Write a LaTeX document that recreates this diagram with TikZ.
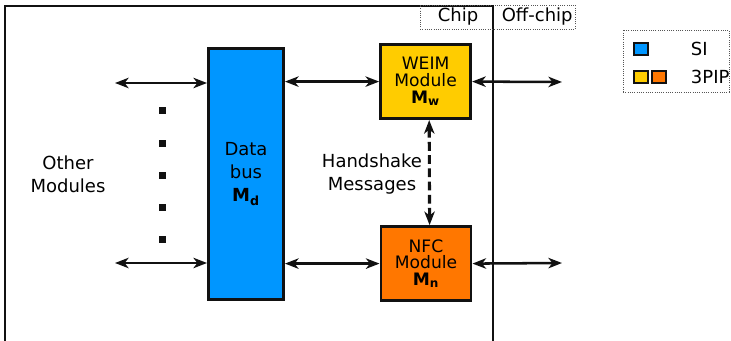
\documentclass[tikz,border=0pt]{standalone}
\usepackage{fontspec}
\setmainfont{DejaVu Sans}
\usetikzlibrary{arrows.meta,positioning,calc}
\definecolor{busBlue}{HTML}{0096FF}
\definecolor{weimYellow}{HTML}{FFCC00}
\definecolor{nfcOrange}{HTML}{FF7700}
\definecolor{lineDark}{HTML}{111111}
\definecolor{dotGray}{HTML}{555555}

\begin{document}
\begin{tikzpicture}[
        font=\fontsize{12.8}{16.5}\selectfont,
        block/.style={
            draw=lineDark,
            line width=2.1pt,
            align=center,
            inner sep=0pt
        },
        module/.style={
            block,
            minimum width=2.25cm,
            minimum height=1.85cm,
            font=\fontsize{12.2}{11.8}\selectfont
        },
        link/.style={
            {Stealth[length=3.4mm,width=2.6mm,inset=1mm]}-{Stealth[length=3.4mm,width=2.6mm,inset=1mm]},
            line width=1.8pt,
            draw=lineDark
        },
        dot/.style={
            fill=lineDark,
            minimum size=0.175cm,
            inner sep=0pt
        },
        swatch/.style={
            draw=lineDark,
            line width=1.4pt,
            minimum width=0.35cm,
            minimum height=0.3cm,
            inner sep=0pt
        },
        dotbox/.style={
            draw=dotGray,
            densely dotted,
            line width=0.6pt,
            inner sep=0pt
        }
    ]

    \useasboundingbox (0,0) rectangle (18.275,-8.525);

    % chip border (bottom side runs off the page)
    \draw[line width=1.4pt, draw=lineDark]
        (0.125,-8.7) -- (0.125,-0.15) -- (12.325,-0.15) -- (12.325,-8.7);

    \node[dotbox, minimum width=3.875cm, minimum height=0.6cm] (chipbox) at (12.44,-0.425) {};
    \draw[line width=1.4pt, draw=lineDark] (12.325,-0.125) -- (12.325,-0.15);
    \node (chiplbl) at (11.45,-0.425) {Chip};
    \node (offlbl) at (13.43,-0.425) {Off-chip};

    \node[block, fill=busBlue, minimum width=1.875cm, minimum height=6.275cm] (bus) at (6.15,-4.35)
        {Data\\ bus\\ \textbf{M}\textsubscript{\textbf{d}}};

    \node[module, fill=weimYellow] (weim) at (10.64,-2.04)
        {WEIM\\ Module\\ \textbf{M}\textsubscript{\textbf{w}}};

    \node[module, fill=nfcOrange] (nfc) at (10.65,-6.59)
        {NFC\\ Module\\ \textbf{M}\textsubscript{\textbf{n}}};

    \node[align=center] (others) at (1.7,-4.35) {Other\\ Modules};
    \node[align=center] (hshake) at (9.3,-4.35) {Handshake\\ Messages};

    \foreach \y [count=\i] in {-2.775,-3.6,-4.4,-5.2,-6.0}
        \node[dot] (dot\i) at (4.05,\y) {};

    \coordinate (inTop) at (2.875,-2.075);
    \coordinate (inBot) at (2.875,-6.575);
    \coordinate (outTop) at (14.05,-2.05);
    \coordinate (outBot) at (14.05,-6.575);

    \draw[link] (inTop) -- (inTop -| bus.west);
    \draw[link] (inBot) -- (inBot -| bus.west);
    \draw[link] (weim.west -| bus.east) -- (weim.west);
    \draw[link] (nfc.west -| bus.east) -- (nfc.west);
    \draw[link] (weim.east) -- (outTop);
    \draw[link] (nfc.east) -- (outBot);

    \draw[link, line width=2.2pt, dash pattern=on 2.2mm off 1.1mm]
        ([xshift=0.9mm]weim.south) -- ([xshift=0.9mm]nfc.north);

    % legend
    \node[dotbox, minimum width=2.65cm, minimum height=1.55cm] (legend) at (16.9,-1.525) {};
    \node[swatch, fill=busBlue] (siSw) at (16.025,-1.225) {};
    \node[swatch, fill=weimYellow] (pipSwA) at (16.025,-1.925) {};
    \node[swatch, fill=nfcOrange] (pipSwB) at (16.475,-1.925) {};
    \node[anchor=west] (siLbl) at (17.15,-1.225) {SI};
    \node[anchor=west] (pipLbl) at (17.15,-1.925) {3PIP};

\end{tikzpicture}
\end{document}
